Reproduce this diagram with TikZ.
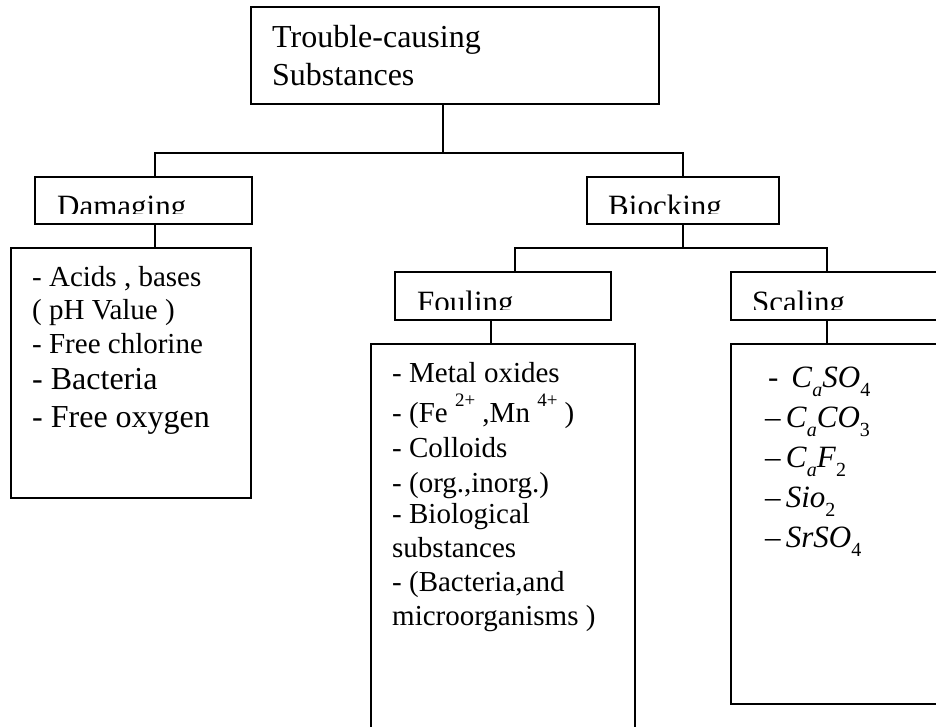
\documentclass[tikz,border=0pt]{standalone}
\usepackage{fontspec}
\setmainfont{Liberation Serif}
\newcommand\lsub[1]{\raisebox{-0.32em}{\fontsize{20}{20}\selectfont #1}}
\newcommand\hsup[1]{\raisebox{0.55em}{\fontsize{19}{19}\selectfont #1}}
\begin{document}
\begin{tikzpicture}[x=1pt,y=-1pt,
  box/.style={draw, line width=1.4pt, rectangle, inner sep=0pt, outer sep=0pt, anchor=north west},
  txt/.style={inner sep=0pt, anchor=base west, font=\fontsize{29}{34}\selectfont},
  big/.style={inner sep=0pt, anchor=base west, font=\fontsize{32}{38}\selectfont},
  hdr/.style={inner sep=0pt, anchor=base west, font=\fontsize{31}{36}\selectfont},
  frm/.style={inner sep=0pt, anchor=base west, font=\fontsize{31}{36}\selectfont},
  link/.style={line width=1.4pt}]
\useasboundingbox (0,0) rectangle (936,726);
\clip (0,0) rectangle (936,726);

% boxes
\node[box, minimum width=408pt, minimum height=97pt] (top) at (251,7) {};
\node[box, minimum width=217pt, minimum height=47pt] (dam) at (35,177) {};
\node[box, minimum width=192pt, minimum height=47pt] (bio) at (587,177) {};
\node[box, minimum width=216pt, minimum height=48pt] (fou) at (395,272) {};
\node[box, minimum width=240pt, minimum height=48pt] (sca) at (731,272) {};
\node[box, minimum width=240pt, minimum height=250pt] (damc) at (11,248) {};
\node[box, minimum width=264pt, minimum height=420pt] (fouc) at (371,344) {};
\node[box, minimum width=240pt, minimum height=360pt] (scac) at (731,344) {};

% connectors
\coordinate (jt) at (443,153);
\coordinate (jd) at (155,153);
\coordinate (jb) at (683,153);
\coordinate (kf) at (515,248);
\coordinate (kb) at (683,248);
\coordinate (ks) at (827,248);
\coordinate (kf2) at (491,300);
\draw[link] (top.south -| jt) -- (jt);
\draw[link] (dam.north -| jd) -- (jd) -- (jb) -- (bio.north);
\draw[link] (dam.south -| jd) -- (damc.north -| jd);
\draw[link] (bio.south) -- (kb);
\draw[link] (fou.north -| kf) -- (kf) -- (ks) -- (sca.north -| ks);
\draw[link] (fou.south -| kf2) -- (fouc.north -| kf2);
\draw[link] (sca.south -| ks) -- (scac.north -| ks);

% title
\node[big] (t1) at (272,47) {Trouble-causing};
\node[big] (t2) at (272,85) {Substances};

% clipped headers
\begin{scope}
  \clip (35,177) rectangle (252,213);
  \node[hdr] (damt) at (57,216) {Damaging};
\end{scope}
\begin{scope}
  \clip (587,177) rectangle (779,213);
  \node[hdr] (biot) at (608,216) {Biocking};
\end{scope}
\begin{scope}
  \clip (395,272) rectangle (611,309);
  \node[hdr] (fout) at (417,312) {Fouling};
\end{scope}
\begin{scope}
  \clip (731,272) rectangle (936,309);
  \node[hdr] (scat) at (752,312) {Scaling};
\end{scope}

% damaging list
\node[txt] (d1) at (32,286) {- Acids , bases};
\node[txt] (d2) at (32,319) {( pH Value )};
\node[txt] (d3) at (32,353) {- Free chlorine};
\node[big] (d4) at (32,389) {- Bacteria};
\node[big] (d5) at (32,427) {- Free oxygen};

% fouling list
\node[txt] (f1) at (392,382) {- Metal oxides};
\node[txt] (f2) at (392,422) {- (Fe \hsup{2+} ,Mn \hsup{4+} )};
\node[txt] (f3) at (392,457) {- Colloids};
\node[txt] (f4) at (392,492) {- (org.,inorg.)};
\node[txt] (f5) at (392,523) {- Biological};
\node[txt] (f6) at (392,557) {substances};
\node[txt] (f7) at (392,591) {- (Bacteria,and};
\node[txt] (f8) at (392,625) {microorganisms )};

% scaling list
\node[frm] (s1) at (768,387) {-\ \,\textit{C}\lsub{\textit{a}}\textit{SO}\lsub{4}};
\node[frm] (s2) at (765,427) {–\,\textit{C}\lsub{\textit{a}}\textit{CO}\lsub{3}};
\node[frm] (s3) at (765,467) {–\,\textit{C}\lsub{\textit{a}}\textit{F}\lsub{2}};
\node[frm] (s4) at (765,507) {–\,\textit{Sio}\lsub{2}};
\node[frm] (s5) at (765,547) {–\,\textit{SrSO}\lsub{4}};
\end{tikzpicture}
\end{document}
